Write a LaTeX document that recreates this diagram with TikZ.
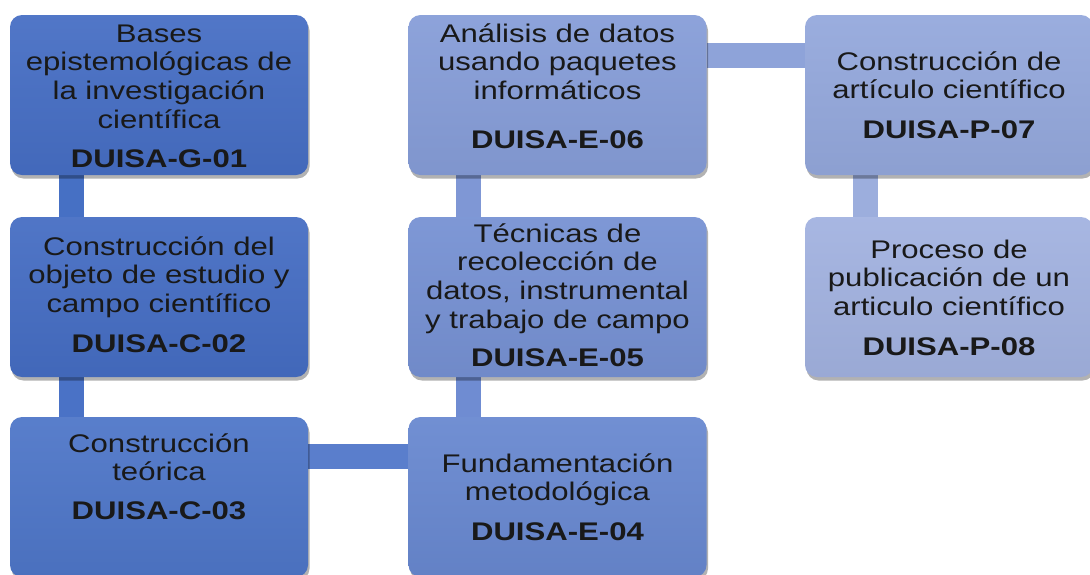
\documentclass[tikz,border=0pt]{standalone}
\usepackage{fontspec}
\setmainfont[FakeStretch=1.22]{Liberation Sans}
\usetikzlibrary{shadows}
\pgfdeclarelayer{bg}
\pgfsetlayers{bg,main}
\definecolor{cA}{HTML}{466EC4}
\definecolor{cB}{HTML}{456DC3}
\definecolor{cC}{HTML}{4E76C8}
\definecolor{cD}{HTML}{6888D0}
\definecolor{cE}{HTML}{7691D3}
\definecolor{cF}{HTML}{869DD8}
\definecolor{cG}{HTML}{94A8DC}
\definecolor{cH}{HTML}{A2B2E0}
\definecolor{kA}{HTML}{4670C4}
\definecolor{kB}{HTML}{4A72C6}
\definecolor{kC}{HTML}{5A7ECC}
\definecolor{kD}{HTML}{6F8CD2}
\definecolor{kE}{HTML}{7F97D5}
\definecolor{kF}{HTML}{8EA3D9}
\definecolor{kG}{HTML}{9CAEDD}
\newcommand\fl{\rule{0pt}{24pt}}
\begin{document}
\begin{tikzpicture}[x=1pt,y=-1pt,
  box/.style={rectangle, rounded corners=12pt, minimum height=160pt, inner sep=0pt,
    top color=#1!94!white, bottom color=#1!95!black,
    drop shadow={shadow xshift=1.5pt, shadow yshift=-3.5pt, opacity=0.3, fill=black}},
  wbox/.style={minimum width=298pt},
  pbox/.style={minimum width=288pt},
  conn/.style={line width=25pt, draw=#1},
  txt/.style={align=center, inner sep=0pt, anchor=north, text=black!90,
    font=\fontsize{25.5}{28.7}\selectfont}]
\useasboundingbox (0,0) rectangle (1090,574);

% boxes
\node[box=cA, wbox] (g01) at (159,95) {};
\node[box=cB, wbox] (c02) at (159,297) {};
\node[box=cC, wbox] (c03) at (159,497) {};
\node[box=cD, wbox] (e04) at (557.5,497) {};
\node[box=cE, wbox] (e05) at (557.5,297) {};
\node[box=cF, wbox] (e06) at (557.5,95) {};
\node[box=cG, pbox] (p07) at (949,95) {};
\node[box=cH, pbox] (p08) at (949,297) {};

% background and connectors
\begin{pgfonlayer}{bg}
\fill[white] (0,0) rectangle (1090,574);
\draw[conn=kA] ([xshift=-87.5pt]g01.south) -- ([xshift=-87.5pt]c02.north);
\draw[conn=kB] ([xshift=-87.5pt]c02.south) -- ([xshift=-87.5pt]c03.north);
\draw[conn=kC] ([yshift=40.5pt]c03.east) -- ([yshift=40.5pt]e04.west);
\draw[conn=kD] ([xshift=-89pt]e04.north) -- ([xshift=-89pt]e05.south);
\draw[conn=kE] ([xshift=-89pt]e05.north) -- ([xshift=-89pt]e06.south);
\draw[conn=kF] ([yshift=39.5pt]e06.east) -- ([yshift=39.5pt]p07.west);
\draw[conn=kG] ([xshift=-84pt]p07.south) -- ([xshift=-84pt]p08.north);
\end{pgfonlayer}

% texts
\node[txt] (g01t) at ([yshift=-3pt]g01.north) {\fl Bases\\ epistemológicas de\\ la investigación\\ científica\\[11pt] \textbf{DUISA-G-01}};
\node[txt] (c02t) at ([yshift=-14pt]c02.north) {\fl Construcción del\\ objeto de estudio y\\ campo científico\\[11pt] \textbf{DUISA-C-02}};
\node[txt] (c03t) at ([yshift=-11pt]c03.north) {\fl Construcción\\ teórica\\[10pt] \textbf{DUISA-C-03}};
\node[txt] (e04t) at ([yshift=-31pt]e04.north) {\fl Fundamentación\\ metodológica\\[11pt] \textbf{DUISA-E-04}};
\node[txt] (e05t) at ([yshift=-1pt]e05.north) {\fl Técnicas de\\ recolección de\\ datos, instrumental\\ y trabajo de campo\\[10pt] \textbf{DUISA-E-05}};
\node[txt] (e06t) at ([yshift=-3pt]e06.north) {\fl Análisis de datos\\ usando paquetes\\ informáticos\\[20pt] \textbf{DUISA-E-06}};
\node[txt] (p07t) at ([yshift=-31pt]p07.north) {\fl Construcción de\\ artículo científico\\[11pt] \textbf{DUISA-P-07}};
\node[txt] (p08t) at ([yshift=-17pt]p08.north) {\fl Proceso de\\ publicación de un\\ articulo científico\\[11pt] \textbf{DUISA-P-08}};
\end{tikzpicture}
\end{document}
